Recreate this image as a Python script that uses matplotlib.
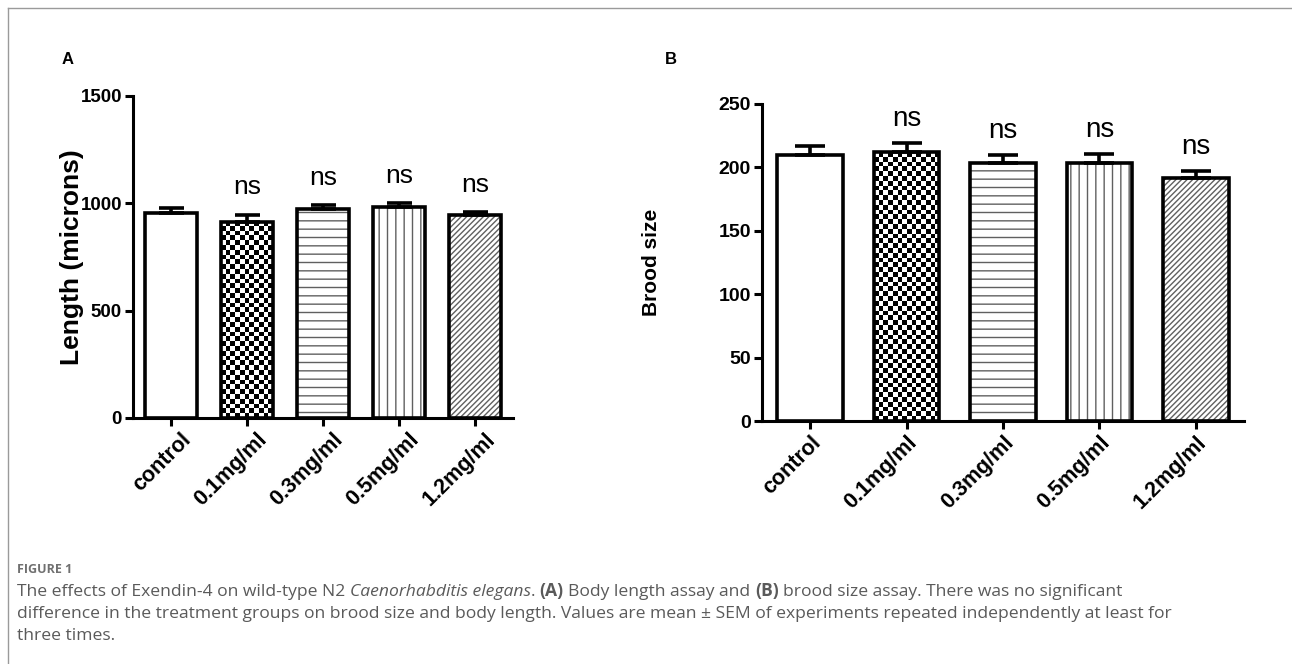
import numpy as np
import matplotlib.pyplot as plt
from matplotlib.lines import Line2D

# data
categories = ["control", "0.1mg/ml", "0.3mg/ml", "0.5mg/ml", "1.2mg/ml"]
length_mean = [955, 915, 975, 985, 945]
length_sem = [25, 32, 15, 15, 15]
brood_mean = [209.5, 212, 203.5, 203.5, 191.5]
brood_sem = [7, 7, 6, 7, 5.5]
sig_labels = ["", "ns", "ns", "ns", "ns"]
length_ticks = [0, 500, 1000, 1500]
brood_ticks = [0, 50, 100, 150, 200, 250]
patterns = [None, "checker", "--", "||", "//////"]

plt.rcParams['font.family'] = ['Liberation Sans', 'DejaVu Sans']
plt.rcParams['hatch.linewidth'] = 1.0

W, H = 1292, 664
fig = plt.figure(figsize=(W / 100, H / 100), dpi=100)


def px_rect(x0, y0, x1, y1):
    # pixel box (top-left origin) -> figure fraction rect
    return [x0 / W, 1 - y1 / H, (x1 - x0) / W, (y1 - y0) / H]


def checker(ax, bar, cell=4.8):
    bb = bar.get_window_extent()
    nx = max(2, int(round(bb.width / cell)))
    ny = max(2, int(round(bb.height / cell)))
    grid = np.indices((ny, nx)).sum(axis=0) % 2
    x0, w, h = bar.get_x(), bar.get_width(), bar.get_height()
    ax.imshow(grid, extent=(x0, x0 + w, 0, h), cmap="gray_r", vmin=0, vmax=1,
              interpolation="nearest", aspect="auto", zorder=2)


def panel(rect, means, sems, ticks, ylabel, ylab_size, tick_size, ns_size, ns_pts, cap,
          label_x, lab_dx):
    ax = fig.add_axes(rect)
    x = np.arange(len(categories))
    ax.set_xlim(-0.5, len(categories) - 0.5)
    ax.set_ylim(0, ticks[-1])
    fills = ax.bar(x, means, width=0.68, color="white", linewidth=0, zorder=1)
    for b, p in zip(fills, patterns):
        if p is None:
            continue
        if p == "checker":
            checker(ax, b)
        else:
            b.set_hatch(p)
            b.set_edgecolor("#606060")
    ax.set_xlim(-0.5, len(categories) - 0.5)
    ax.set_ylim(0, ticks[-1])
    ax.bar(x, means, width=0.68, fill=False, edgecolor="black", linewidth=2.6, zorder=4)
    ax.errorbar(x, means, yerr=[np.zeros(len(x)), sems], fmt="none", ecolor="black",
                elinewidth=2.6, capsize=cap, capthick=2.6, zorder=3)
    for xi, m, s, lab in zip(x, means, sems, sig_labels):
        if lab:
            ax.annotate(lab, (xi, m + s), xytext=(0, ns_pts), textcoords="offset points",
                        ha="center", va="bottom", fontsize=ns_size)
    for side in ["top", "right"]:
        ax.spines[side].set_visible(False)
    for side in ["left", "bottom"]:
        ax.spines[side].set_linewidth(2.2)
    ax.set_yticks(ticks)
    ax.set_yticklabels([str(t) for t in ticks], fontweight="bold", fontsize=tick_size)
    ax.set_xticks(x)
    ax.set_xticklabels([])
    # rotated category labels, nudged right of the tick like the original
    for xi, cat in zip(x, categories):
        ax.annotate(cat, (xi, 0), xycoords=("data", "axes fraction"),
                    xytext=(lab_dx, -8), textcoords="offset points",
                    rotation=45, ha="right", va="top", rotation_mode="anchor",
                    fontweight="bold", fontsize=15.5)
    ax.tick_params(axis="both", direction="out", length=6, width=2.2, pad=2)
    ax.set_ylabel(ylabel, fontweight="bold", fontsize=ylab_size)
    ax.yaxis.set_label_coords(label_x, 0.5)
    return ax


axA = panel(px_rect(133, 96, 513, 418), length_mean, length_sem, length_ticks,
            "Length (microns)", 19, 13.5, 19, 11, 9, -0.13, 7)
axB = panel(px_rect(762, 104, 1244, 421), brood_mean, brood_sem, brood_ticks,
            "Brood size", 15, 14, 20, 8, 11, -0.21, 0)

fig.text(62 / W, 1 - 60 / H, "A", fontweight="bold", fontsize=12, va="center")
fig.text(665 / W, 1 - 60 / H, "B", fontweight="bold", fontsize=12, va="center")

# thin frame round the figure
fig.add_artist(Line2D([8 / W, 8 / W], [0, 1 - 8 / H], transform=fig.transFigure,
                      color="#9a9a9a", lw=1))
fig.add_artist(Line2D([8 / W, 1], [1 - 8 / H, 1 - 8 / H], transform=fig.transFigure,
                      color="#9a9a9a", lw=1))

# caption
cap_font = dict(family=["Open Sans", "DejaVu Sans"], fontsize=12.6, color="#5a5a5a",
                va="baseline")
fig.text(17 / W, 1 - 573 / H, "FIGURE 1", family=["Open Sans", "DejaVu Sans"], fontsize=9,
         fontweight="bold", color="#707070", va="baseline")

renderer = fig.canvas.get_renderer()
probe_a = fig.text(0, 0, "a a", **cap_font)
probe_b = fig.text(0, 0, "aa", **cap_font)
space_w = probe_a.get_window_extent(renderer).width - probe_b.get_window_extent(renderer).width
probe_a.remove()
probe_b.remove()

plain = {}
ital = {"style": "italic"}
bold = {"fontweight": "bold"}
caption_lines = [
    [("The effects of Exendin-4 on wild-type N2", plain, False),
     ("Caenorhabditis elegans", ital, True),
     (".", plain, False),
     ("(A)", bold, True),
     ("Body length assay and", plain, True),
     ("(B)", bold, True),
     ("brood size assay. There was no significant", plain, True)],
    [("difference in the treatment groups on brood size and body length. Values are mean \u00b1 SEM "
      "of experiments repeated independently at least for", plain, False)],
    [("three times.", plain, False)],
]
y_base = 596
for line in caption_lines:
    xpx = 17
    for txt, style, sp in line:
        if sp:
            xpx += space_w
        t = fig.text(xpx / W, 1 - y_base / H, txt, **cap_font, **style)
        xpx += t.get_window_extent(renderer).width
    y_base += 22

fig.savefig("out.png", dpi=100)
